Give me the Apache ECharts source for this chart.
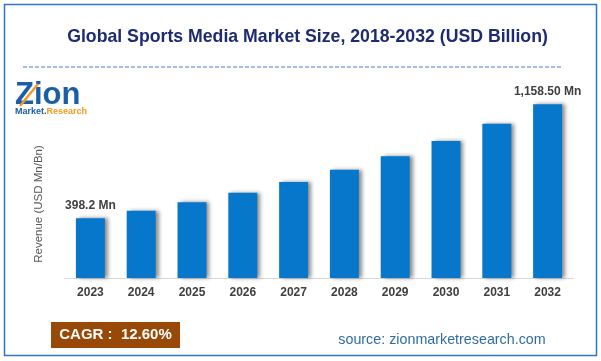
<!DOCTYPE html>
<html>
<head>
<meta charset="utf-8">
<script src="https://cdn.jsdelivr.net/npm/echarts@6/dist/echarts.min.js"></script>
<style>html,body{margin:0;padding:0;background:#fff;}#c{width:601px;height:361px;}</style>
</head>
<body>
<div id="c"></div>
<script>
var years = ['2023','2024','2025','2026','2027','2028','2029','2030','2031','2032'];
var revenue = [398.2, 448, 505, 568, 640, 721, 812, 914, 1029, 1158.5];
var valueLabels = ['398.2 Mn','','','','','','','','','1,158.50 Mn'];
var titleText = 'Global Sports Media Market Size, 2018-2032 (USD Billion)';
var yAxisName = 'Revenue (USD Mn/Bn)';
var cagrText = 'CAGR :  12.60%';
var sourceText = 'source: zionmarketresearch.com';

var chart = echarts.init(document.getElementById('c'), null, {renderer: 'canvas'});
var font = '"Liberation Sans", Arial, sans-serif';

chart.setOption({
  animation: false,
  backgroundColor: '#ffffff',
  title: {
    text: titleText,
    left: 302.5, top: 23, textAlign: 'center',
    textStyle: {fontFamily: font, fontSize: 17.7, fontWeight: 'bold', color: '#1d2b70'}
  },
  grid: {left: 65, right: 28, top: 83, bottom: 83, containLabel: false},
  xAxis: {
    type: 'category',
    data: years,
    axisLine: {show: true, lineStyle: {color: '#d9d9d9', width: 1}},
    axisTick: {show: false},
    axisLabel: {fontFamily: font, fontSize: 12, fontWeight: 'bold', color: '#404040', margin: 9}
  },
  yAxis: {
    type: 'value', min: 0, max: 1300,
    axisLine: {show: false}, axisTick: {show: false}, axisLabel: {show: false},
    splitLine: {show: false}
  },
  series: [{
    type: 'bar',
    data: revenue.map(function (v, i) {
      return {value: v, label: {show: valueLabels[i] !== '', formatter: valueLabels[i]}};
    }),
    barCategoryGap: '43%',
    itemStyle: {
      color: '#0777cb',
      shadowColor: 'rgba(0,0,0,0.45)', shadowBlur: 4, shadowOffsetX: 3, shadowOffsetY: 0
    },
    label: {position: 'top', distance: 7, fontFamily: font, fontSize: 12, fontWeight: 'bold', color: '#404040'}
  }],
  graphic: [
    {type: 'rect', shape: {x: 4.5, y: 4.5, width: 592, height: 351},
     style: {fill: null, stroke: '#2e75c6', lineWidth: 1.5}, silent: true},
    {type: 'line', shape: {x1: 23, y1: 67, x2: 562, y2: 67},
     style: {stroke: '#4a78c8', lineWidth: 1, lineDash: [4, 2]}, silent: true},
    {type: 'text', x: 39, y: 204, rotation: Math.PI / 2,
     style: {text: yAxisName, font: '11.5px ' + font, fill: '#595959', align: 'center', verticalAlign: 'middle'}},
    {type: 'text', left: 15, top: 80,
     style: {text: 'Zion', font: 'bold 31px ' + font, fill: '#1a5ea8'}},
    {type: 'line', shape: {x1: 20, y1: 106, x2: 38, y2: 84},
     style: {stroke: '#f39a1f', lineWidth: 2.5}},
    {type: 'text', left: 15, top: 107,
     style: {rich: {a: {font: 'bold 9px ' + font, fill: '#1a5ea8'}, b: {font: 'bold 9px ' + font, fill: '#f39a1f'}},
             text: '{a|Market.}{b|Research}'}},
    {type: 'rect', shape: {x: 51, y: 322, width: 129, height: 26}, style: {fill: '#984807'}},
    {type: 'text', x: 115.5, y: 335,
     style: {text: cagrText, font: 'bold 15px ' + font, fill: '#ffffff', align: 'center', verticalAlign: 'middle'}},
    {type: 'text', x: 442, y: 340,
     style: {text: sourceText, font: '14.3px ' + font, fill: '#2e6da4', align: 'center', verticalAlign: 'middle'}}
  ]
});
</script>
</body>
</html>
